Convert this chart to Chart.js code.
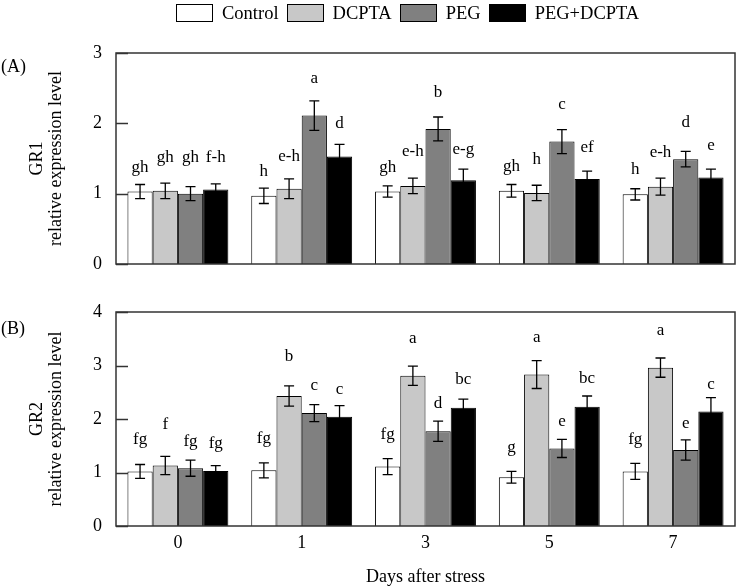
<!DOCTYPE html>
<html>
<head>
<meta charset="utf-8">
<script src="https://cdn.jsdelivr.net/npm/chart.js@4.4.1/dist/chart.umd.min.js"></script>
<style>
    body { margin: 0; background: #fff; }
    #wrap { position: relative; width: 737px; height: 588px; font-family: "Liberation Serif", "Times New Roman", serif; color: #000; }
    #chartA { position: absolute; left: 0; top: 0; }
    #chartB { position: absolute; left: 0; top: 280px; }
    .legend { position: absolute; left: 176px; top: 3px; display: flex; align-items: center; font-size: 18.5px; line-height: 20px; }
    .legend .item { display: flex; align-items: center; margin-right: 8px; }
    .legend .box { width: 35px; height: 16px; border: 1px solid #000; margin-right: 9px; }
    .tag { position: absolute; left: 1px; font-size: 18px; line-height: 20px; }
</style>
</head>
<body>
<div id="wrap">
    <canvas id="chartA" width="737" height="280"></canvas>
    <canvas id="chartB" width="737" height="308"></canvas>
    <div class="legend" id="legend"></div>
    <div class="tag" style="top:56px">(A)</div>
    <div class="tag" style="top:318px">(B)</div>
</div>
<script>
(function() {
    'use strict';

    const days = ['0', '1', '3', '5', '7'];
    const treatments = ['Control', 'DCPTA', 'PEG', 'PEG+DCPTA'];
    const fills = ['#ffffff', '#c8c8c8', '#808080', '#000000'];

    // GR1 (panel A)
    const gr1Control = [1.03, 0.97, 1.03, 1.04, 0.99];
    const gr1Dcpta = [1.04, 1.07, 1.11, 1.01, 1.10];
    const gr1Peg = [1.00, 2.11, 1.92, 1.74, 1.49];
    const gr1PegDcpta = [1.06, 1.53, 1.19, 1.21, 1.23];
    const gr1ControlErr = [0.10, 0.11, 0.08, 0.09, 0.08];
    const gr1DcptaErr = [0.11, 0.14, 0.11, 0.11, 0.12];
    const gr1PegErr = [0.10, 0.21, 0.17, 0.17, 0.11];
    const gr1PegDcptaErr = [0.08, 0.17, 0.16, 0.11, 0.12];
    const gr1ControlSig = ['gh', 'h', 'gh', 'gh', 'h'];
    const gr1DcptaSig = ['gh', 'e-h', 'e-h', 'h', 'e-h'];
    const gr1PegSig = ['gh', 'a', 'b', 'c', 'd'];
    const gr1PegDcptaSig = ['f-h', 'd', 'e-g', 'ef', 'e'];
    const gr1ControlSigY = [1.37, 1.32, 1.37, 1.39, 1.34];
    const gr1DcptaSigY = [1.51, 1.53, 1.60, 1.49, 1.58];
    const gr1PegSigY = [1.51, 2.64, 2.44, 2.27, 2.01];
    const gr1PegDcptaSigY = [1.51, 2.00, 1.63, 1.65, 1.68];

    // GR2 (panel B)
    const gr2Control = [1.02, 1.04, 1.11, 0.91, 1.02];
    const gr2Dcpta = [1.13, 2.43, 2.81, 2.83, 2.96];
    const gr2Peg = [1.08, 2.11, 1.77, 1.45, 1.42];
    const gr2PegDcpta = [1.03, 2.04, 2.21, 2.23, 2.14];
    const gr2ControlErr = [0.13, 0.14, 0.15, 0.11, 0.15];
    const gr2DcptaErr = [0.17, 0.19, 0.18, 0.26, 0.18];
    const gr2PegErr = [0.15, 0.16, 0.19, 0.17, 0.19];
    const gr2PegDcptaErr = [0.10, 0.21, 0.16, 0.20, 0.26];
    const gr2ControlSig = ['fg', 'fg', 'fg', 'g', 'fg'];
    const gr2DcptaSig = ['f', 'b', 'a', 'a', 'a'];
    const gr2PegSig = ['fg', 'c', 'd', 'e', 'e'];
    const gr2PegDcptaSig = ['fg', 'c', 'bc', 'bc', 'c'];
    const gr2ControlSigY = [1.62, 1.63, 1.71, 1.46, 1.62];
    const gr2DcptaSigY = [1.89, 3.16, 3.50, 3.52, 3.66];
    const gr2PegSigY = [1.58, 2.62, 2.28, 1.96, 1.92];
    const gr2PegDcptaSigY = [1.54, 2.56, 2.74, 2.75, 2.65];

    const FONT = '"Liberation Serif", "Times New Roman", serif';

    // frame around the plot plus inward tick marks on the y axis
    const framePlugin = {
        id: 'frame',
        afterDatasetsDraw(chart) {
            const { ctx, chartArea: a } = chart;
            const y = chart.scales.y;
            ctx.save();
            ctx.strokeStyle = '#333';
            ctx.lineWidth = 1.5;
            ctx.strokeRect(a.left, a.top, a.right - a.left, a.bottom - a.top);
            y.ticks.forEach(t => {
                const py = Math.round(y.getPixelForValue(t.value)) + 0.5;
                ctx.beginPath();
                ctx.moveTo(a.left, py);
                ctx.lineTo(a.left + 12, py);
                ctx.stroke();
            });
            ctx.restore();
        }
    };

    // error bars and significance letters
    const annotationPlugin = {
        id: 'annotations',
        afterDatasetsDraw(chart) {
            const { ctx } = chart;
            const y = chart.scales.y;
            ctx.save();
            chart.data.datasets.forEach((ds, i) => {
                const meta = chart.getDatasetMeta(i);
                meta.data.forEach((bar, j) => {
                    const v = ds.data[j];
                    const e = ds.errors[j];
                    const top = y.getPixelForValue(v + e);
                    const bottom = y.getPixelForValue(v - e);
                    ctx.strokeStyle = '#000';
                    ctx.lineWidth = 1.3;
                    ctx.beginPath();
                    ctx.moveTo(bar.x, top);
                    ctx.lineTo(bar.x, bottom);
                    ctx.moveTo(bar.x - 5, top);
                    ctx.lineTo(bar.x + 5, top);
                    ctx.moveTo(bar.x - 5, bottom);
                    ctx.lineTo(bar.x + 5, bottom);
                    ctx.stroke();

                    ctx.fillStyle = '#000';
                    ctx.font = '17px ' + FONT;
                    ctx.textAlign = 'center';
                    ctx.textBaseline = 'middle';
                    ctx.fillText(ds.sigs[j], bar.x, y.getPixelForValue(ds.sigY[j]));
                });
            });
            ctx.restore();
        }
    };

    function makeDataset(idx, values, errors, sigs, sigY) {
        return {
            label: treatments[idx],
            data: values,
            errors: errors,
            sigs: sigs,
            sigY: sigY,
            backgroundColor: fills[idx],
            borderColor: '#000',
            borderWidth: 1,
            categoryPercentage: 0.815,
            barPercentage: 1.0
        };
    }

    function makeChart(canvasId, cfg) {
        return new Chart(document.getElementById(canvasId), {
            type: 'bar',
            data: { labels: days, datasets: cfg.datasets },
            options: {
                responsive: false,
                animation: false,
                layout: { padding: { top: cfg.padTop, right: 2, left: 0, bottom: 0 } },
                plugins: { legend: { display: false }, tooltip: { enabled: false } },
                scales: {
                    x: {
                        grid: { display: false, drawTicks: false },
                        border: { display: false },
                        ticks: { display: cfg.showDays, color: '#000', font: { family: FONT, size: 18 }, padding: 6 },
                        title: {
                            display: cfg.showDays,
                            text: 'Days after stress',
                            color: '#000',
                            font: { family: FONT, size: 18 },
                            padding: { top: 0, bottom: 0 }
                        },
                        afterFit: s => { s.height = cfg.xHeight; }
                    },
                    y: {
                        min: 0,
                        max: cfg.yMax,
                        grid: { display: false, drawTicks: false },
                        border: { display: false },
                        ticks: { stepSize: 1, color: '#000', font: { family: FONT, size: 18 }, padding: 14 },
                        title: {
                            display: true,
                            text: [cfg.gene, 'relative expression level'],
                            color: '#000',
                            font: { family: FONT, size: 18, lineHeight: 1.05 },
                            padding: { top: 28, bottom: 0 }
                        },
                        afterFit: s => {
                            s.width = 116;
                            // tick padding would otherwise eat space above/below the plot
                            s.paddingTop = 0;
                            s.paddingBottom = 0;
                        }
                    }
                }
            },
            plugins: [framePlugin, annotationPlugin]
        });
    }

    makeChart('chartA', {
        gene: 'GR1',
        yMax: 3,
        padTop: 53,
        xHeight: 16,
        showDays: false,
        datasets: [
            makeDataset(0, gr1Control, gr1ControlErr, gr1ControlSig, gr1ControlSigY),
            makeDataset(1, gr1Dcpta, gr1DcptaErr, gr1DcptaSig, gr1DcptaSigY),
            makeDataset(2, gr1Peg, gr1PegErr, gr1PegSig, gr1PegSigY),
            makeDataset(3, gr1PegDcpta, gr1PegDcptaErr, gr1PegDcptaSig, gr1PegDcptaSigY)
        ]
    });

    makeChart('chartB', {
        gene: 'GR2',
        yMax: 4,
        padTop: 32,
        xHeight: 62,
        showDays: true,
        datasets: [
            makeDataset(0, gr2Control, gr2ControlErr, gr2ControlSig, gr2ControlSigY),
            makeDataset(1, gr2Dcpta, gr2DcptaErr, gr2DcptaSig, gr2DcptaSigY),
            makeDataset(2, gr2Peg, gr2PegErr, gr2PegSig, gr2PegSigY),
            makeDataset(3, gr2PegDcpta, gr2PegDcptaErr, gr2PegDcptaSig, gr2PegDcptaSigY)
        ]
    });

    // shared legend
    const legend = document.getElementById('legend');
    legend.innerHTML = treatments.map((t, i) =>
        `<div class="item"><div class="box" style="background:${fills[i]}"></div><span>${t}</span></div>`
    ).join('');
})();
</script>
</body>
</html>
